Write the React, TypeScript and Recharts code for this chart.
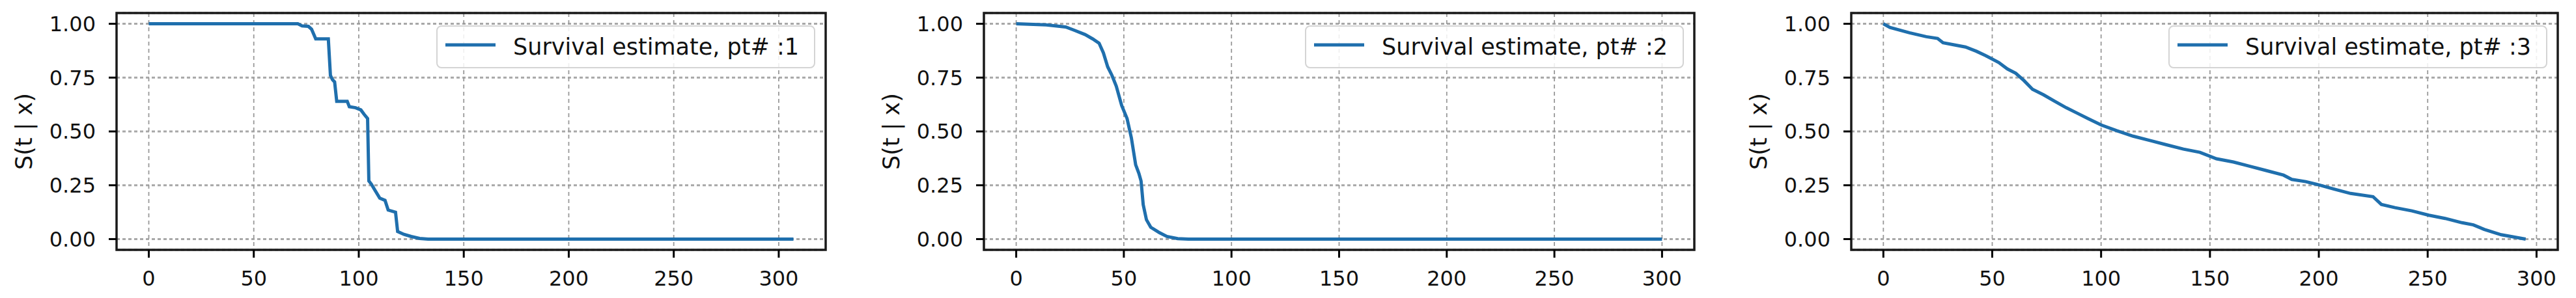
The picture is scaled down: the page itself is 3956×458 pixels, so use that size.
import React from "react";
import {
  LineChart, Line, XAxis, YAxis, CartesianGrid, Legend, ReferenceArea,
} from "recharts";

// Patient 1: step-like survival curve (time, S(t|x))
const pt1Time = [0, 71, 73, 76, 77.5, 79.5, 85.5, 86.5, 87.5, 88.5, 89.5, 94.5, 95.5, 98.5, 101, 102.5, 104.2, 104.8, 106, 107.5, 110, 112.5, 114, 117.5, 118.5, 121.5, 125, 129, 133, 307];
const pt1Surv = [1.0, 1.0, 0.99, 0.988, 0.975, 0.93, 0.93, 0.76, 0.74, 0.73, 0.64, 0.64, 0.615, 0.61, 0.6, 0.58, 0.56, 0.27, 0.255, 0.23, 0.19, 0.18, 0.135, 0.125, 0.035, 0.022, 0.012, 0.003, 0, 0];

// Patient 2: steep drop around t=50
const pt2Time = [0, 14, 23, 27, 32, 35.5, 38.5, 40.5, 42.5, 44.5, 46.5, 49, 51.5, 53.5, 55.5, 57, 58, 59, 60.5, 62.5, 66.5, 70, 75, 80, 300];
const pt2Surv = [1.0, 0.995, 0.985, 0.97, 0.95, 0.93, 0.91, 0.865, 0.8, 0.76, 0.71, 0.62, 0.56, 0.47, 0.345, 0.305, 0.27, 0.16, 0.09, 0.055, 0.03, 0.012, 0.002, 0, 0];

// Patient 3: near-linear decline
const pt3Time = [0, 3, 12, 19.7, 24.9, 27.4, 32.6, 37.7, 42.8, 48, 53, 57, 60.8, 64.6, 68.5, 73.6, 78.7, 84, 89, 94, 100, 107, 114.7, 122.4, 130, 137.8, 145.4, 153, 160.8, 168.4, 176, 183.8, 187.6, 194, 200, 207, 214.6, 224.9, 228.7, 235, 242.8, 250.5, 258, 265.8, 271, 276, 283.8, 295];
const pt3Surv = [1.0, 0.983, 0.958, 0.94, 0.932, 0.912, 0.902, 0.892, 0.872, 0.847, 0.82, 0.79, 0.77, 0.736, 0.696, 0.67, 0.64, 0.61, 0.585, 0.56, 0.53, 0.504, 0.478, 0.458, 0.438, 0.418, 0.403, 0.373, 0.358, 0.338, 0.318, 0.297, 0.277, 0.267, 0.252, 0.232, 0.212, 0.197, 0.161, 0.146, 0.131, 0.111, 0.096, 0.076, 0.066, 0.045, 0.02, 0.0];

const xTicks = [0, 50, 100, 150, 200, 250, 300];
const yTicks = [0, 0.25, 0.5, 0.75, 1.0];
const legendLabels = ["Survival estimate, pt# :1", "Survival estimate, pt# :2", "Survival estimate, pt# :3"];
const yLabel = "S(t | x)";

const toRows = (t: number[], s: number[]) => t.map((v, i) => ({ t: v, s: s[i] }));

const FONT = "'DejaVu Sans', sans-serif";
const BLUE = "#1f6fad";
const H = 458;

// placement of each subplot on the page
const panels = [
  { left: 0, width: 1300, axisW: 179, mr: 32, rows: toRows(pt1Time, pt1Surv), tmax: 307, name: legendLabels[0] },
  { left: 1300, width: 1330, axisW: 211, mr: 28, rows: toRows(pt2Time, pt2Surv), tmax: 300, name: legendLabels[1] },
  { left: 2630, width: 1326, axisW: 213, mr: 28, rows: toRows(pt3Time, pt3Surv), tmax: 295, name: legendLabels[2] },
];

function YLabel(props: any) {
  const vb = props.viewBox;
  if (!vb) return null;
  const x = vb.x + vb.width - 142;
  const y = vb.y + vb.height / 2;
  return (
    <text x={x} y={y} transform={`rotate(-90, ${x}, ${y})`} textAnchor="middle" dominantBaseline="central"
      fontFamily={FONT} fontSize={35} fill="#111">
      {yLabel}
    </text>
  );
}

function LegendBox({ name }: { name: string }) {
  return (
    <div style={{
      width: "100%", height: "100%", boxSizing: "border-box", border: "2px solid #d4d4d4",
      borderRadius: 8, background: "rgba(255,255,255,0.85)", display: "flex", alignItems: "center",
    }}>
      <svg width={77} height={8} style={{ marginLeft: 12, marginTop: -6 }}>
        <line x1={0} y1={4} x2={77} y2={4} stroke={BLUE} strokeWidth={5} />
      </svg>
      <span style={{ marginLeft: 27, fontFamily: FONT, fontSize: 35, color: "#111", whiteSpace: "nowrap" }}>{name}</span>
    </div>
  );
}

function Panel({ p }: { p: typeof panels[number] }) {
  const pad = p.tmax * 0.05;
  const xDom: [number, number] = [-pad, p.tmax + pad];
  const yDom: [number, number] = [-0.05, 1.05];
  const plotRight = p.width - p.mr;
  const legW = 582;
  const tick = { fontSize: 32, fontFamily: FONT, fill: "#111" };
  return (
    <div style={{ position: "absolute", left: p.left, top: 0, width: p.width, height: H }}>
      <LineChart width={p.width} height={H} data={p.rows} margin={{ top: 20, right: p.mr, bottom: 0, left: 0 }}>
        <CartesianGrid horizontal={true} vertical={false} stroke="#a8a8a8" strokeWidth={3} strokeDasharray="5 4" />
        <CartesianGrid horizontal={false} vertical={true} stroke="#999" strokeWidth={1.8} strokeDasharray="6 5" />
        <XAxis dataKey="t" type="number" domain={xDom} ticks={xTicks} allowDataOverflow height={74}
          tickSize={12} tickMargin={20} tick={tick} axisLine={false}
          tickLine={{ stroke: "#000", strokeWidth: 3 }} />
        <YAxis type="number" domain={yDom} ticks={yTicks} allowDataOverflow width={p.axisW}
          tickSize={12} tickMargin={20} tick={tick} axisLine={false}
          tickLine={{ stroke: "#000", strokeWidth: 3 }}
          tickFormatter={(v: number) => v.toFixed(2)}
          label={<YLabel />} />
        <Line type="linear" dataKey="s" name={p.name} stroke={BLUE} strokeWidth={5} dot={false}
          activeDot={false} isAnimationActive={false} />
        <ReferenceArea x1={xDom[0]} x2={xDom[1]} y1={yDom[0]} y2={yDom[1]} fill="none" fillOpacity={0}
          stroke="#1a1a1a" strokeWidth={3.5} ifOverflow="visible" />
        <Legend layout="horizontal" verticalAlign="middle" align="center"
          wrapperStyle={{ left: plotRight - 16 - legW, top: 39, width: legW, height: 66, bottom: "auto", right: "auto" }}
          content={() => <LegendBox name={p.name} />} />
      </LineChart>
    </div>
  );
}

export default function App() {
  return (
    <div style={{ position: "absolute", left: 0, top: 0, width: 3956, height: H, background: "#fff", overflow: "hidden" }}>
      {panels.map((p, i) => <Panel key={i} p={p} />)}
    </div>
  );
}
